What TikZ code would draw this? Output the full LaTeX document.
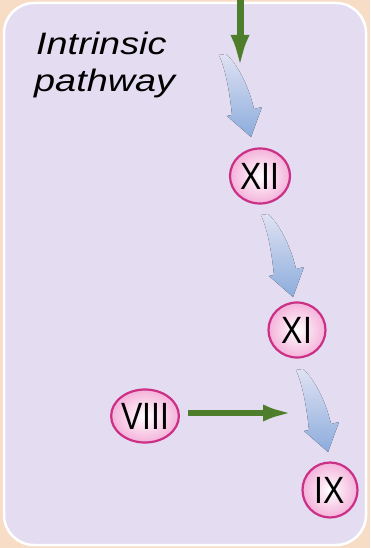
\documentclass[tikz,border=0pt]{standalone}
\usepackage{fontspec}
\setmainfont{Liberation Sans}
\usetikzlibrary{arrows.meta,shapes.geometric}
\definecolor{peach}{HTML}{F7DCC6}
\definecolor{lav}{HTML}{E4DCF0}
\definecolor{grn}{HTML}{4E7D2C}
\definecolor{bltop}{HTML}{DFE2F3}
\definecolor{blbot}{HTML}{8CACDC}
\definecolor{pinkrim}{HTML}{CC2F86}
\definecolor{pinkfill}{HTML}{F4B2DA}
\tikzset{
  factor/.style={ellipse, draw=pinkrim, line width=2.2pt, inner sep=0pt,
    shading=radial, inner color=white, outer color=pinkfill,
    font=\fontsize{38}{38}\selectfont, text=black},
  garrow/.style={draw=grn, line width=7pt, -{Latex[length=33pt,width=19pt]}},
  blarrow/.pic={\fill[top color=bltop,bottom color=blbot]
     (0,0) .. controls (7,15) and (11,40) .. (13,60) -- (8,61) -- (32,82)
     -- (43,52) -- (35,54) .. controls (29,28) and (17,8) .. (7,-1) -- cycle;},
  lbl/.style={anchor=base west, inner sep=0pt, font=\fontsize{31}{36}\selectfont\itshape}
}
\newcommand{\nar}[1]{\scalebox{0.84}[1]{#1}}
\begin{document}
\begin{tikzpicture}[x=1pt,y=-1pt]
\useasboundingbox (0,0) rectangle (370,548);
\fill[peach] (0,0) rectangle (370,548);
\draw[white, line width=2.5pt, fill=lav, rounded corners=30pt] (4,3) rectangle (366,545);
% blue pathway arrows
\pic (b1) at (219,55) {blarrow};
\pic (b2) at (261,215) {blarrow};
\pic (b3) at (296,370) {blarrow};
% labels
\node[lbl] (t1) at (36,55) {\scalebox{1.22}[1]{Intrinsic}};
\node[lbl] (t2) at (34,92) {\scalebox{1.22}[1]{pathway}};
% factors
\node[factor, minimum width=60pt, minimum height=55pt] (xii) at (260,176) {\nar{XII}};
\node[factor, minimum width=57pt, minimum height=55pt] (xi) at (297,330) {\nar{XI}};
\node[factor, minimum width=65pt, minimum height=53pt] (viii) at (145,416) {\nar{VIII}};
\node[factor, minimum width=55pt, minimum height=55pt] (ix) at (330,490) {\nar{IX}};
% green arrows
\coordinate (topin) at (240,-4);
\coordinate (topend) at (240,68);
\draw[garrow] (topin) -- (topend);
\coordinate (viiiend) at (293,413);
\draw[garrow, line width=6pt, -{Latex[length=30pt,width=17pt]}] ([xshift=8pt]viii.east |- viiiend) -- (viiiend);
\end{tikzpicture}
\end{document}
